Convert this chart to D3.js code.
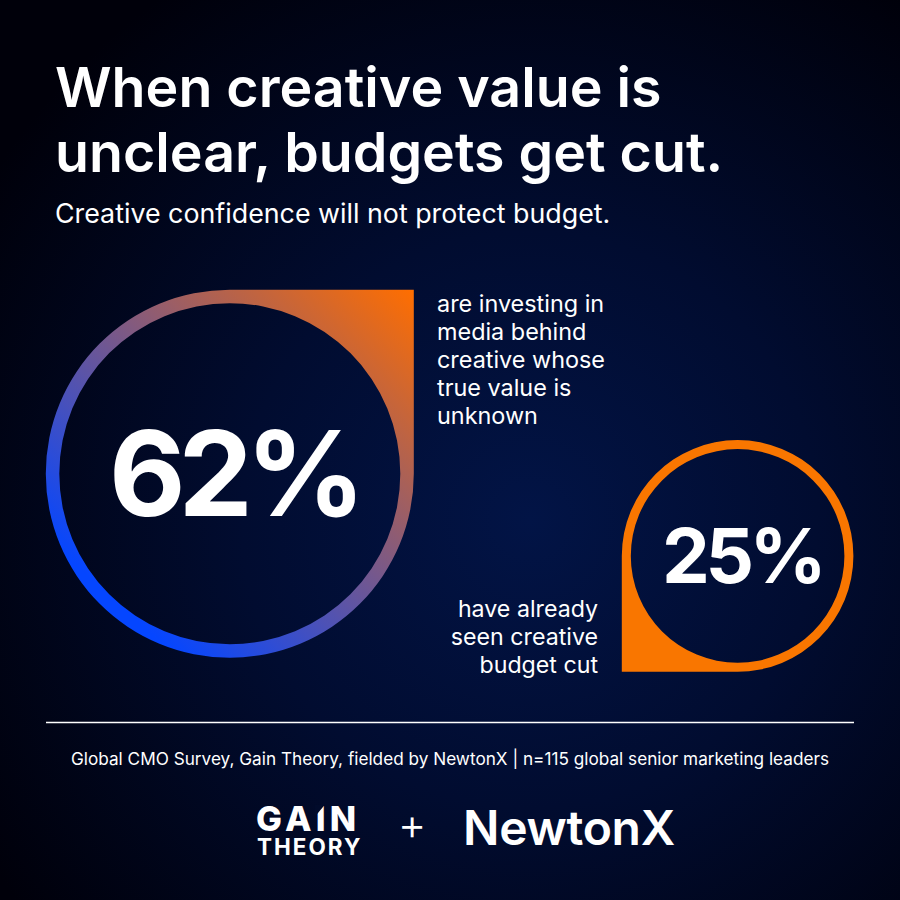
<!DOCTYPE html><html><head><meta charset="utf-8">
<script src="https://cdn.jsdelivr.net/npm/d3@7/dist/d3.min.js"></script>
<style>html,body{margin:0;padding:0;background:#000}svg{display:block}text{font-family:Inter,"Noto Sans",sans-serif;fill:#fff}</style>
</head>
<body><svg id="board"></svg>
<script>
var titleLines = ["When creative value is", "unclear, budgets get cut."];
var subtitle = "Creative confidence will not protect budget.";
var statValues = [62, 25];
var bigLabel = ["are investing in", "media behind", "creative whose", "true value is", "unknown"];
var smallLabel = ["have already", "seen creative", "budget cut"];
var footnote = "Global CMO Survey, Gain Theory, fielded by NewtonX | n=115 global senior marketing leaders";

var size = 900;
var svg = d3.select("#board").attr("width", size).attr("height", size);
var defs = svg.append("defs");

var bg = defs.append("radialGradient").attr("id", "bg")
	.attr("gradientUnits", "userSpaceOnUse")
	.attr("cx", 530).attr("cy", 520).attr("r", 640);
bg.append("stop").attr("offset", 0).attr("stop-color", "#021446");
bg.append("stop").attr("offset", 0.45).attr("stop-color", "#010c30");
bg.append("stop").attr("offset", 1).attr("stop-color", "#00000a");

var ringGrad = defs.append("linearGradient").attr("id", "ringGrad")
	.attr("gradientUnits", "userSpaceOnUse")
	.attr("x1", 413).attr("y1", 290).attr("x2", 125).attr("y2", 610);
ringGrad.append("stop").attr("offset", 0).attr("stop-color", "#ff6e00");
ringGrad.append("stop").attr("offset", 1).attr("stop-color", "#0546ff");

svg.append("rect").attr("width", size).attr("height", size).attr("fill", "url(#bg)");

// ring area follows the percentage
var radius = d3.scaleSqrt().domain([25, 62]).range([115.8, 184]);

function dropPath(cx, cy, r, inner, corner) {
	var p = d3.path();
	if (corner == "topright") {
		p.moveTo(cx, cy - r);
		p.lineTo(cx + r, cy - r);
		p.lineTo(cx + r, cy);
		p.arc(cx, cy, r, 0, 1.5 * Math.PI);
	} else {
		p.moveTo(cx - r, cy);
		p.lineTo(cx - r, cy + r);
		p.lineTo(cx, cy + r);
		p.arc(cx, cy, r, 0.5 * Math.PI, -Math.PI, true);
	}
	p.closePath();
	p.moveTo(cx + inner, cy);
	p.arc(cx, cy, inner, 0, 2 * Math.PI);
	p.closePath();
	return p.toString();
}

var rings = [
	{ value: statValues[0], cx: 229.8, cy: 473.7, band: 13.5, corner: "topright", fill: "url(#ringGrad)", font: 118, ty: 516, track: -7, tx: 4 },
	{ value: statValues[1], cx: 737.6, cy: 555.9, band: 9, corner: "bottomleft", fill: "#f97600", font: 76, ty: 583, track: -4.5, tx: 4.5 }
];

svg.selectAll(".ring").data(rings).enter().append("path")
	.attr("class", "ring")
	.attr("fill-rule", "evenodd")
	.attr("fill", function(d) { return d.fill; })
	.attr("d", function(d) { var r = radius(d.value); return dropPath(d.cx, d.cy, r, r - d.band, d.corner); });

svg.selectAll(".stat").data(rings).enter().append("text")
	.attr("class", "stat")
	.attr("x", function(d) { return d.cx + d.tx; })
	.attr("y", function(d) { return d.ty; })
	.attr("text-anchor", "middle")
	.style("font-size", function(d) { return d.font + "px"; })
	.style("font-weight", 700)
	.style("letter-spacing", function(d) { return d.track + "px"; })
	.text(function(d) { return d.value + "%"; });

svg.selectAll(".title").data(titleLines).enter().append("text")
	.attr("class", "title")
	.attr("x", 55)
	.attr("y", function(d, i) { return 107 + i * 65; })
	.style("font-size", "55.5px")
	.style("font-weight", 600)
	.text(function(d) { return d; });

svg.append("text").attr("x", 55).attr("y", 223)
	.style("font-size", "26.8px")
	.text(subtitle);

svg.selectAll(".bigLabel").data(bigLabel).enter().append("text")
	.attr("class", "bigLabel")
	.attr("x", 437)
	.attr("y", function(d, i) { return 312 + i * 28; })
	.style("font-size", "23.4px")
	.text(function(d) { return d; });

svg.selectAll(".smallLabel").data(smallLabel).enter().append("text")
	.attr("class", "smallLabel")
	.attr("x", 598)
	.attr("y", function(d, i) { return 617 + i * 28; })
	.attr("text-anchor", "end")
	.style("font-size", "23.2px")
	.text(function(d) { return d; });

svg.append("line")
	.attr("x1", 46).attr("x2", 854).attr("y1", 722.5).attr("y2", 722.5)
	.attr("stroke", "#fff").attr("stroke-width", 1.5);

svg.append("text").attr("x", 450).attr("y", 765).attr("text-anchor", "middle")
	.style("font-size", "17.2px")
	.text(footnote);

// logos
var gain = svg.append("text").attr("x", 256).attr("y", 831).style("font-size", "34.5px").style("font-weight", 800).style("letter-spacing", "4.2px").text("GAIN");
svg.append("text").attr("x", 257).attr("y", 855).style("font-size", "22.5px").style("font-weight", 700).style("letter-spacing", "2px").text("THEORY");
svg.append("text").attr("x", 412).attr("y", 840).attr("text-anchor", "middle").style("font-size", "44px").style("font-weight", 300).text("+");
svg.append("text").attr("x", 463).attr("y", 845).style("font-size", "48px").style("font-weight", 600).style("letter-spacing", "-0.3px").text("NewtonX");

// slanted cut on the I of the logo
var iBox = gain.node().getExtentOfChar(2);
var iMid = iBox.x + (iBox.width - 4.2) / 2;
svg.append("path")
	.attr("fill", "#010b2b")
	.attr("d", d3.line()([[iMid - 6, 805], [iMid + 4, 805], [iMid - 6, 817]]));
</script>
</body></html>
